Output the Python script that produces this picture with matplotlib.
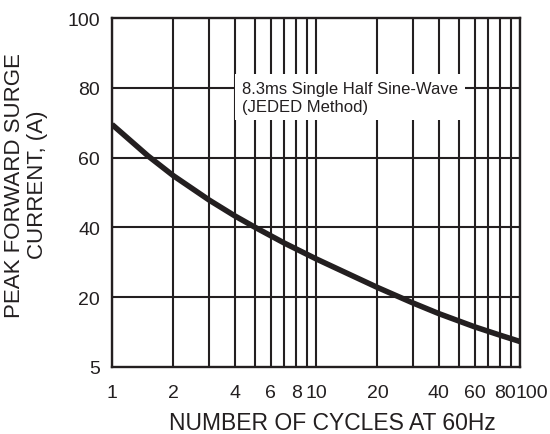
import matplotlib
matplotlib.use("Agg")
import matplotlib.pyplot as plt
from matplotlib.ticker import FixedLocator, NullLocator
from matplotlib.transforms import ScaledTranslation

plt.rcParams['font.family'] = ['Liberation Sans', 'DejaVu Sans']

# Data
cycles = [1, 1.5, 2, 3, 4, 5, 7, 10, 15, 20, 30, 40, 60, 80, 100]
current = [69.5, 60.5, 54.8, 47.8, 43.3, 40.1, 35.5, 31.0, 26.2, 22.8, 18.3, 15.3, 11.5, 9.1, 7.3]

x_ticks = [1, 2, 4, 6, 8, 10, 20, 40, 60, 80, 100]
x_ticklabels = ['1', '2', '4', '6', '8', '10', '20', '40', '60', '80', '100']
x_grid = [1, 2, 3, 4, 5, 6, 7, 8, 9, 10, 20, 30, 40, 50, 60, 70, 80, 90, 100]
y_ticks = [0, 20, 40, 60, 80, 100]
y_ticklabels = ['5', '20', '40', '60', '80', '100']
y_grid = [20, 40, 60, 80]

ink = '#231f20'

fig = plt.figure(figsize=(5.5, 4.35), dpi=100)
ax = fig.add_axes([112 / 550, 1 - 368 / 435, 408 / 550, 349 / 435])
ax.set_xscale('log')
ax.set_xlim(1, 100)
ax.set_ylim(0, 100)

for g in x_grid:
    ax.axvline(g, color=ink, lw=1.5, zorder=1)
for g in y_grid:
    ax.axhline(g, color=ink, lw=1.5, zorder=1)

ax.plot(cycles, current, color=ink, lw=4.0, solid_capstyle='butt',
        solid_joinstyle='round', zorder=3)

ax.xaxis.set_major_locator(FixedLocator(x_ticks))
ax.xaxis.set_minor_locator(NullLocator())
ax.set_xticklabels(x_ticklabels)
ax.set_yticks(y_ticks)
ax.set_yticklabels(y_ticklabels)
ax.tick_params(axis='both', length=0, labelsize=14, colors=ink)
ax.tick_params(axis='y', pad=8.5)
ax.tick_params(axis='x', pad=12)

# nudge the crowded last labels to the right as in the reference
xt = ax.get_xticklabels()
shifts = {'80': 5, '100': 12}
for lab in xt:
    s = shifts.get(lab.get_text())
    if s:
        lab.set_transform(lab.get_transform() + ScaledTranslation(s / 100, 0, fig.dpi_scale_trans))

for s in ax.spines.values():
    s.set_linewidth(1.7)
    s.set_color(ink)

fig.text(332 / 550, 1 - 430 / 435, 'NUMBER OF CYCLES AT 60Hz', fontsize=16.5,
         color=ink, ha='center', va='baseline')
fig.text(20.5 / 550, 1 - 186 / 435, 'PEAK FORWARD SURGE', fontsize=16,
         color=ink, ha='center', va='baseline', rotation=90, rotation_mode='anchor')
fig.text(42.7 / 550, 1 - 185 / 435, 'CURRENT, (A)', fontsize=16,
         color=ink, ha='center', va='baseline', rotation=90, rotation_mode='anchor')

ax.text(0.3186, 0.773, '8.3ms Single Half Sine-Wave\n(JEDED Method)',
        transform=ax.transAxes, fontsize=12, color=ink, ha='left', va='center',
        linespacing=1.25, zorder=4,
        bbox=dict(boxstyle='square,pad=0.4', facecolor='white', edgecolor='none'))

fig.savefig('out.png', dpi=100)
